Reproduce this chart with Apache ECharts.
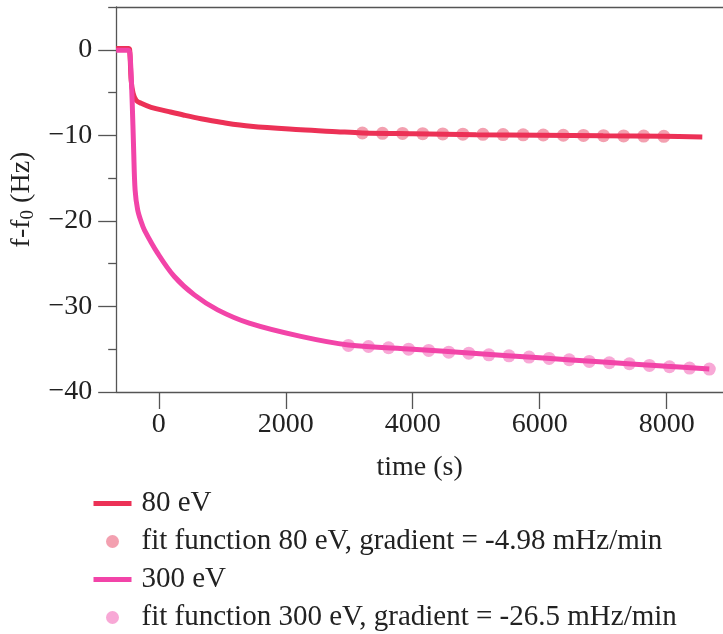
<!DOCTYPE html>
<html>
<head>
<meta charset="utf-8">
<script src="https://cdn.jsdelivr.net/npm/echarts@6/dist/echarts.min.js"></script>
<style>
  html, body { margin: 0; padding: 0; background: #ffffff; }
  #chart { width: 723px; height: 634px; }
</style>
</head>
<body>
<div id="chart"></div>
<script>
// Frequency shift measured after switching on the beam (time in s, shift in Hz)
const time80 = [-671, -480, -459, -435, -404, -357, -278, -121, 141, 400, 665, 979, 1449, 2237, 2800, 3207, 4000, 5000, 6000, 7000, 7955, 8561];
const freq80 = [0.15, 0.15, 0.0, -3.6, -5.1, -5.9, -6.26, -6.73, -7.2, -7.65, -8.07, -8.48, -8.95, -9.35, -9.57, -9.72, -9.82, -9.92, -9.99, -10.06, -10.12, -10.19];

const time300 = [-671, -480, -452, -420, -396, -373, -333, -278, -226, -16, 245, 560, 927, 1424, 2237, 2987, 4000, 5000, 6000, 7000, 8000, 8671];
const freq300 = [-0.05, -0.05, -0.7, -5.9, -11.7, -16.4, -18.7, -20.1, -21.07, -23.8, -26.5, -28.65, -30.4, -31.95, -33.5, -34.5, -35.0, -35.5, -36.0, -36.5, -37.0, -37.3];

// Linear fit evaluated along the late part of each run
const fitTime80 = [3207, 3524, 3840, 4157, 4473, 4790, 5106, 5423, 5739, 6056, 6372, 6689, 7005, 7322, 7638, 7955];
const fitFreq80 = [-9.73, -9.76, -9.78, -9.81, -9.83, -9.86, -9.88, -9.91, -9.94, -9.96, -9.99, -10.01, -10.04, -10.07, -10.09, -10.12];

const fitTime300 = [2987, 3303, 3619, 3935, 4251, 4567, 4883, 5199, 5516, 5832, 6148, 6464, 6780, 7096, 7412, 7728, 8044, 8360, 8671];
const fitFreq300 = [-34.56, -34.68, -34.83, -34.99, -35.14, -35.34, -35.46, -35.65, -35.77, -35.92, -36.08, -36.23, -36.43, -36.58, -36.70, -36.89, -37.05, -37.20, -37.32];

const seriesNames = ['80 eV', 'fit function 80 eV, gradient = -4.98 mHz/min', '300 eV', 'fit function 300 eV, gradient = -26.5 mHz/min'];

// Axis ticks and labels
const xTicks = [0, 2000, 4000, 6000, 8000];
const yTicks = [0, -10, -20, -30, -40];
const yMinorTicks = [5, -5, -15, -25, -35];

const FONT = '"Liberation Serif", "DejaVu Serif", serif';
const AXIS_COLOR = '#555555';
const TEXT_COLOR = '#222222';
const X_MIN = -671, X_MAX = 8887, Y_MIN = -40, Y_MAX = 5;

const zip = (xs, ys) => xs.map((x, i) => [x, ys[i]]);
const minus = v => String(v).replace('-', '\u2212');

const chart = echarts.init(document.getElementById('chart'), null, { renderer: 'canvas' });

const axisLine = { show: true, onZero: false, lineStyle: { color: AXIS_COLOR, width: 1.3 } };
const tickLine = { color: AXIS_COLOR, width: 1.3 };

chart.setOption({
  animation: false,
  backgroundColor: '#ffffff',
  grid: { left: 115, right: 0, top: 7, bottom: 242, containLabel: false },
  legend: {
    orient: 'vertical',
    left: 91,
    top: 489,
    height: 145,
    padding: 0,
    itemWidth: 38,
    itemHeight: 13,
    itemGap: 9,
    textStyle: { fontFamily: FONT, fontSize: 29, lineHeight: 29, color: TEXT_COLOR, padding: [0, 0, 0, 5] },
    data: [
      { name: seriesNames[0], lineStyle: { width: 5 }, itemStyle: { opacity: 0 } },
      { name: seriesNames[1], icon: 'circle' },
      { name: seriesNames[2], lineStyle: { width: 5 }, itemStyle: { opacity: 0 } },
      { name: seriesNames[3], icon: 'circle' }
    ]
  },
  xAxis: [
    {
      type: 'value', min: X_MIN, max: X_MAX, position: 'bottom',
      axisLine: axisLine,
      axisTick: { show: true, length: 17, customValues: xTicks, lineStyle: tickLine },
      axisLabel: { customValues: xTicks, margin: 19, fontFamily: FONT, fontSize: 28, color: TEXT_COLOR, formatter: minus },
      splitLine: { show: false },
      name: 'time (s)', nameLocation: 'middle', nameGap: 62,
      nameTextStyle: { fontFamily: FONT, fontSize: 28, color: TEXT_COLOR }
    },
    {
      type: 'value', min: X_MIN, max: X_MAX, position: 'top',
      axisLine: axisLine,
      axisTick: { show: false }, axisLabel: { show: false }, splitLine: { show: false }
    }
  ],
  yAxis: [
    {
      type: 'value', min: Y_MIN, max: Y_MAX, position: 'left',
      axisLine: axisLine,
      axisTick: { show: true, length: 18, customValues: yTicks, lineStyle: tickLine },
      axisLabel: { customValues: yTicks, margin: 24, fontFamily: FONT, fontSize: 28, color: TEXT_COLOR, formatter: minus },
      splitLine: { show: false },
      name: 'f-f{s|0} (Hz)', nameLocation: 'middle', nameGap: 73, nameRotate: 90,
      nameTextStyle: {
        fontFamily: FONT, fontSize: 28, color: TEXT_COLOR,
        rich: { s: { fontFamily: FONT, fontSize: 19, color: TEXT_COLOR, padding: [12, 0, 0, 0] } }
      }
    },
    {
      type: 'value', min: Y_MIN, max: Y_MAX, position: 'left',
      axisLine: { show: false, onZero: false },
      axisTick: { show: true, length: 8, customValues: yMinorTicks, lineStyle: tickLine },
      axisLabel: { show: false }, splitLine: { show: false }
    }
  ],
  series: [
    {
      name: seriesNames[0], type: 'line', xAxisIndex: 0, yAxisIndex: 0,
      data: zip(time80, freq80), symbol: 'none', showSymbol: false,
      smooth: 0.35,
      lineStyle: { color: '#EC3156', width: 5 }, itemStyle: { color: '#EC3156' }
    },
    {
      name: seriesNames[1], type: 'scatter', xAxisIndex: 0, yAxisIndex: 0,
      data: zip(fitTime80, fitFreq80), symbol: 'circle', symbolSize: 13,
      itemStyle: { color: '#F3A0B0', opacity: 1 }
    },
    {
      name: seriesNames[2], type: 'line', xAxisIndex: 0, yAxisIndex: 0,
      data: zip(time300, freq300), symbol: 'none', showSymbol: false,
      smooth: 0.35,
      lineStyle: { color: '#F244A8', width: 5 }, itemStyle: { color: '#F244A8' }
    },
    {
      name: seriesNames[3], type: 'scatter', xAxisIndex: 0, yAxisIndex: 0,
      data: zip(fitTime300, fitFreq300), symbol: 'circle', symbolSize: 13,
      itemStyle: { color: '#F8A8D6', opacity: 1 }
    }
  ]
});
</script>
</body>
</html>
